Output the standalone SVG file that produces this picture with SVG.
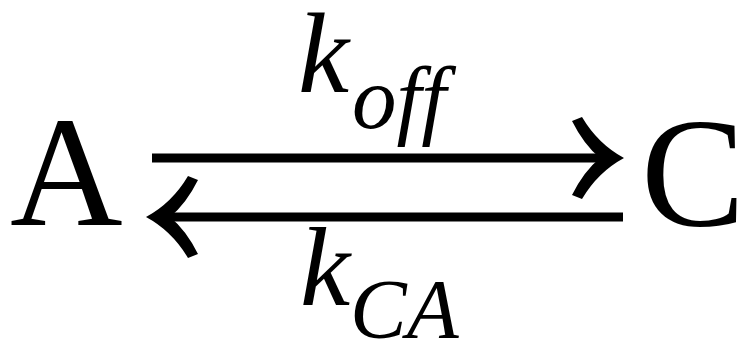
<svg xmlns="http://www.w3.org/2000/svg" width="741" height="343" viewBox="0 0 741 343">
<style>
.t{font-family:"Liberation Serif","Times New Roman",serif;fill:#000}
.sp{font-size:156px}
.it{font-style:italic}
.ln{stroke:#000;stroke-width:9;fill:none}
.hd{fill:#000}
</style>
<rect width="741" height="343" fill="#fff"/>
<g id="nodeA"><text class="t sp" x="10" y="225">A</text></g>
<g id="nodeC"><text class="t sp" x="641" y="225">C</text></g>
<g id="connectors">
<line class="ln" x1="152" y1="158" x2="610" y2="158"/>
<path class="hd" d="M624,158 Q598,144 582,117 L572,121 Q584,145 600,158 Q584,171 572,195 L582,199 Q598,172 624,158 Z"/>
<line class="ln" x1="160" y1="217" x2="623" y2="217"/>
<path class="hd" d="M146,217 Q172,203 188,176 L198,180 Q186,204 170,217 Q186,230 198,254 L188,258 Q172,231 146,217 Z"/>
</g>
<g id="label-koff"><text class="t it" x="298" y="92" font-size="115">k</text><text class="t it" x="352" y="128" font-size="89">off</text></g>
<g id="label-kCA"><text class="t it" x="300" y="305" font-size="113">k</text><text class="t it" x="350" y="338" font-size="85">CA</text></g>
</svg>
